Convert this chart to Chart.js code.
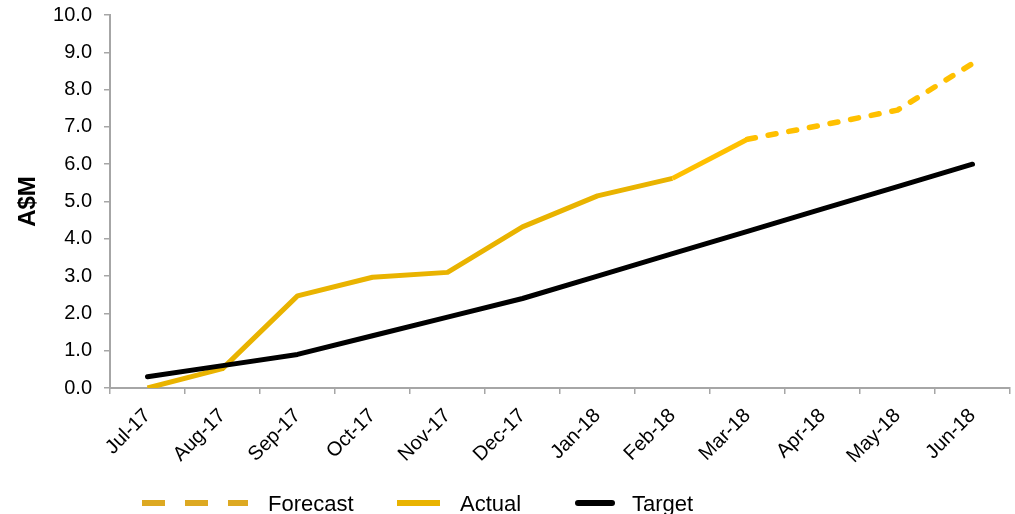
<!DOCTYPE html>
<html>
<head>
<meta charset="utf-8">
<script src="https://cdn.jsdelivr.net/npm/chart.js@4"></script>
<style>
html,body{margin:0;padding:0;background:#fff;}
#wrap{width:1015px;height:514px;position:relative;overflow:hidden;}
</style>
</head>
<body>
<div id="wrap"><canvas id="c" width="1015" height="514"></canvas></div>
<script>
const categories = ['Jul-17','Aug-17','Sep-17','Oct-17','Nov-17','Dec-17','Jan-18','Feb-18','Mar-18','Apr-18','May-18','Jun-18'];
const actualValues = [0.0, 0.52, 2.47, 2.97, 3.10, 4.32, 5.15, 5.62, 6.67, null, null, null];
const forecastValues = [null, null, null, null, null, null, null, null, 6.67, 7.05, 7.45, 8.70];
const targetValues = [0.3, 0.6, 0.9, 1.4, 1.9, 2.4, 3.0, 3.6, 4.2, 4.8, 5.4, 6.0];
const yTicks = [0,1,2,3,4,5,6,7,8,9,10];
const seriesNames = ['Forecast','Actual','Target'];

const FONT = '"Liberation Sans", Arial, sans-serif';
const AXIS = '#A6A6A6';
const GOLD = '#E9B300';
const YELLOW = '#FFC000';

const legendPlugin = {
  id: 'customLegend',
  afterDraw(chart) {
    const ctx = chart.ctx;
    const a = chart.chartArea;
    const y = a.bottom + 115;
    ctx.save();
    ctx.strokeStyle = '#DDA922';
    ctx.lineWidth = 6;
    ctx.lineCap = 'butt';
    ctx.setLineDash([23, 20]);
    ctx.beginPath(); ctx.moveTo(a.left + 32, y); ctx.lineTo(a.left + 138, y); ctx.stroke();
    ctx.setLineDash([]);
    ctx.strokeStyle = GOLD;
    ctx.beginPath(); ctx.moveTo(a.left + 287, y); ctx.lineTo(a.left + 330, y); ctx.stroke();
    ctx.strokeStyle = '#000';
    ctx.lineCap = 'round';
    ctx.beginPath(); ctx.moveTo(a.left + 468, y); ctx.lineTo(a.left + 502, y); ctx.stroke();
    ctx.fillStyle = '#000';
    ctx.font = '22px ' + FONT;
    ctx.textBaseline = 'alphabetic';
    ctx.textAlign = 'left';
    ctx.fillText(seriesNames[0], a.left + 158, y + 8);
    ctx.fillText(seriesNames[1], a.left + 350, y + 8);
    ctx.fillText(seriesNames[2], a.left + 522, y + 8);
    ctx.restore();
  }
};

new Chart(document.getElementById('c'), {
  type: 'line',
  data: {
    labels: categories,
    datasets: [
      {
        label: seriesNames[2],
        data: targetValues,
        borderColor: '#000000',
        borderWidth: 5,
        borderCapStyle: 'round',
        borderJoinStyle: 'round',
        pointRadius: 0,
        tension: 0,
        order: 1
      },
      {
        label: seriesNames[1],
        data: actualValues,
        borderColor: GOLD,
        borderWidth: 5,
        borderCapStyle: 'butt',
        borderJoinStyle: 'round',
        pointRadius: 0,
        tension: 0,
        segment: {
          borderColor: c => (c.p1DataIndex === 8 ? YELLOW : undefined)
        },
        order: 2
      },
      {
        label: seriesNames[0],
        data: forecastValues,
        borderColor: YELLOW,
        borderWidth: 5.5,
        borderDash: [8, 13],
        borderCapStyle: 'round',
        borderJoinStyle: 'round',
        pointRadius: 0,
        tension: 0,
        order: 3
      }
    ]
  },
  options: {
    responsive: false,
    devicePixelRatio: 1,
    animation: false,
    layout: { padding: { top: 15, right: 5, left: 0, bottom: 0 } },
    plugins: {
      legend: { display: false },
      tooltip: { enabled: false }
    },
    scales: {
      x: {
        type: 'category',
        offset: true,
        grid: {
          offset: true,
          drawOnChartArea: false,
          drawTicks: true,
          tickLength: 6,
          color: AXIS,
          lineWidth: 1.5
        },
        border: { display: true, color: AXIS, width: 2 },
        ticks: {
          autoSkip: false,
          maxRotation: 45,
          minRotation: 45,
          padding: 10,
          color: '#000',
          font: { family: FONT, size: 20 }
        },
        afterFit(scale) { scale.height = 126; scale.paddingTop = 0; }
      },
      y: {
        min: 0,
        max: 10,
        afterBuildTicks(scale) { scale.ticks = yTicks.map(v => ({ value: v })); },
        grid: {
          drawOnChartArea: false,
          drawTicks: true,
          tickLength: 6,
          color: AXIS,
          lineWidth: 1.5
        },
        border: { display: true, color: AXIS, width: 2 },
        ticks: {
          padding: 12,
          color: '#000',
          font: { family: FONT, size: 20 },
          callback: v => Number(v).toFixed(1)
        },
        title: {
          display: true,
          text: 'A$M',
          color: '#000',
          font: { family: FONT, size: 24, weight: 'bold' },
          padding: { top: 14, bottom: 0 }
        },
        afterFit(scale) { scale.width = 110; scale.paddingTop = 0; scale.paddingBottom = 0; }
      }
    }
  },
  plugins: [legendPlugin]
});
</script>
</body>
</html>
